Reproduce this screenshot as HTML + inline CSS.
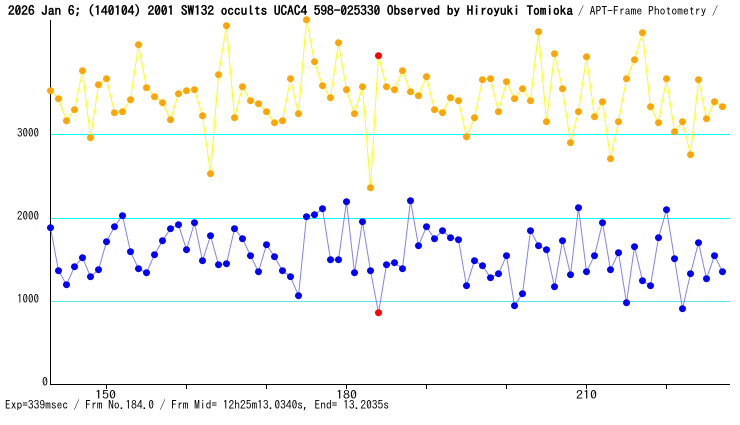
<!DOCTYPE html>
<html><head><meta charset="utf-8"><style>
html,body{margin:0;padding:0;background:#fff;}
svg{display:block;}
text{font-family:"IPAGothic","Liberation Sans",sans-serif;}
</style></head><body>
<svg width="740" height="425" viewBox="0 0 740 425" xmlns="http://www.w3.org/2000/svg">
<rect width="740" height="425" fill="#fff"/>
<text x="8" y="15" font-size="13" font-weight="bold" textLength="565" lengthAdjust="spacingAndGlyphs" fill="#000">2026 Jan 6; (140104) 2001 SW132 occults UCAC4 598-025330 Observed by Hiroyuki Tomioka</text>
<text x="578" y="15" font-size="12" textLength="140" lengthAdjust="spacingAndGlyphs" fill="#000">/ APT-Frame Photometry /</text>
<g shape-rendering="crispEdges">
<line x1="51" y1="134.5" x2="730" y2="134.5" stroke="#00ffff" stroke-width="1"/>
<line x1="51" y1="218.5" x2="730" y2="218.5" stroke="#00ffff" stroke-width="1"/>
<line x1="51" y1="301.5" x2="730" y2="301.5" stroke="#5ce4f0" stroke-width="1"/>
<line x1="50.5" y1="20" x2="50.5" y2="385" stroke="#000" stroke-width="1"/>
<line x1="50" y1="384.5" x2="730" y2="384.5" stroke="#000" stroke-width="1"/>
<path d="M106.5 385V389M186.5 385V389M266.5 385V389M346.5 385V389M426.5 385V389M506.5 385V389M586.5 385V389M666.5 385V389" stroke="#000" stroke-width="1"/>
</g>
<g font-size="12" fill="#000">
<text x="17" y="137" textLength="22" lengthAdjust="spacingAndGlyphs">3000</text>
<text x="17" y="220" textLength="22" lengthAdjust="spacingAndGlyphs">2000</text>
<text x="17" y="303" textLength="22" lengthAdjust="spacingAndGlyphs">1000</text>
<text x="42" y="386">0</text>
<text x="95" y="399" textLength="21" lengthAdjust="spacingAndGlyphs">150</text>
<text x="336" y="399" textLength="21" lengthAdjust="spacingAndGlyphs">180</text>
<text x="576" y="399" textLength="21" lengthAdjust="spacingAndGlyphs">210</text>
<text x="5" y="409" textLength="384" lengthAdjust="spacingAndGlyphs">Exp=339msec / Frm No.184.0 / Frm Mid= 12h25m13.0340s, End= 13.2035s</text>
</g>
<g transform="translate(0.5,0)">
<polyline fill="none" stroke="#ffff00" stroke-width="1" points="50,90.7 58,98.7 66,120.7 74,109.7 82,70.7 90,137.7 98,84.7 106,78.7 114,112.7 122,111.7 130,99.7 138,44.7 146,87.7 154,96.7 162,102.7 170,119.7 178,93.7 186,90.7 194,89.7 202,115.7 210,173.7 218,74.7 226,25.7 234,117.7 242,86.7 250,100.7 258,103.7 266,111.7 274,122.7 282,120.7 290,78.7 298,113.7 306,19.7 314,61.7 322,85.7 330,97.7 338,42.7 346,89.7 354,113.7 362,86.7 370,187.7 378,55.7 386,86.7 394,89.7 402,70.7 410,91.7 418,95.7 426,76.7 434,109.7 442,112.7 450,97.7 458,100.7 466,136.7 474,117.7 482,79.7 490,78.7 498,111.7 506,81.7 514,98.7 522,88.7 530,100.7 538,31.7 546,121.7 554,53.7 562,88.7 570,142.7 578,111.7 586,56.7 594,116.7 602,101.7 610,158.7 618,121.7 626,78.7 634,59.7 642,32.7 650,106.7 658,122.7 666,78.7 674,131.7 682,121.7 690,154.7 698,79.7 706,118.7 714,101.7 722,106.7"/>
<polyline fill="none" stroke="#8080ff" stroke-width="1" points="50,227.7 58,270.7 66,284.7 74,266.7 82,257.7 90,276.7 98,269.7 106,241.7 114,226.7 122,215.7 130,251.7 138,268.7 146,272.7 154,254.7 162,240.7 170,228.7 178,224.7 186,249.7 194,222.7 202,260.7 210,235.7 218,264.7 226,263.7 234,228.7 242,238.7 250,255.7 258,271.7 266,244.7 274,256.7 282,270.7 290,276.7 298,295.7 306,216.7 314,214.7 322,208.7 330,259.7 338,259.7 346,201.7 354,272.7 362,221.7 370,270.7 378,312.7 386,264.7 394,262.7 402,268.7 410,200.7 418,245.7 426,226.7 434,238.7 442,230.7 450,237.7 458,239.7 466,285.7 474,260.7 482,265.7 490,277.7 498,273.7 506,255.7 514,305.7 522,293.7 530,230.7 538,245.7 546,249.7 554,286.7 562,240.7 570,274.7 578,207.7 586,271.7 594,255.7 602,222.7 610,269.7 618,252.7 626,302.7 634,246.7 642,280.7 650,285.7 658,237.7 666,209.7 674,258.7 682,308.7 690,273.7 698,242.7 706,278.7 714,255.7 722,271.7"/>
<g fill="#ffa500">
<circle cx="50" cy="90.7" r="3.5"/><circle cx="58" cy="98.7" r="3.5"/><circle cx="66" cy="120.7" r="3.5"/><circle cx="74" cy="109.7" r="3.5"/><circle cx="82" cy="70.7" r="3.5"/><circle cx="90" cy="137.7" r="3.5"/><circle cx="98" cy="84.7" r="3.5"/><circle cx="106" cy="78.7" r="3.5"/><circle cx="114" cy="112.7" r="3.5"/><circle cx="122" cy="111.7" r="3.5"/><circle cx="130" cy="99.7" r="3.5"/><circle cx="138" cy="44.7" r="3.5"/><circle cx="146" cy="87.7" r="3.5"/><circle cx="154" cy="96.7" r="3.5"/><circle cx="162" cy="102.7" r="3.5"/><circle cx="170" cy="119.7" r="3.5"/><circle cx="178" cy="93.7" r="3.5"/><circle cx="186" cy="90.7" r="3.5"/><circle cx="194" cy="89.7" r="3.5"/><circle cx="202" cy="115.7" r="3.5"/><circle cx="210" cy="173.7" r="3.5"/><circle cx="218" cy="74.7" r="3.5"/><circle cx="226" cy="25.7" r="3.5"/><circle cx="234" cy="117.7" r="3.5"/><circle cx="242" cy="86.7" r="3.5"/><circle cx="250" cy="100.7" r="3.5"/><circle cx="258" cy="103.7" r="3.5"/><circle cx="266" cy="111.7" r="3.5"/><circle cx="274" cy="122.7" r="3.5"/><circle cx="282" cy="120.7" r="3.5"/><circle cx="290" cy="78.7" r="3.5"/><circle cx="298" cy="113.7" r="3.5"/><circle cx="306" cy="19.7" r="3.5"/><circle cx="314" cy="61.7" r="3.5"/><circle cx="322" cy="85.7" r="3.5"/><circle cx="330" cy="97.7" r="3.5"/><circle cx="338" cy="42.7" r="3.5"/><circle cx="346" cy="89.7" r="3.5"/><circle cx="354" cy="113.7" r="3.5"/><circle cx="362" cy="86.7" r="3.5"/><circle cx="370" cy="187.7" r="3.5"/><circle cx="386" cy="86.7" r="3.5"/><circle cx="394" cy="89.7" r="3.5"/><circle cx="402" cy="70.7" r="3.5"/><circle cx="410" cy="91.7" r="3.5"/><circle cx="418" cy="95.7" r="3.5"/><circle cx="426" cy="76.7" r="3.5"/><circle cx="434" cy="109.7" r="3.5"/><circle cx="442" cy="112.7" r="3.5"/><circle cx="450" cy="97.7" r="3.5"/><circle cx="458" cy="100.7" r="3.5"/><circle cx="466" cy="136.7" r="3.5"/><circle cx="474" cy="117.7" r="3.5"/><circle cx="482" cy="79.7" r="3.5"/><circle cx="490" cy="78.7" r="3.5"/><circle cx="498" cy="111.7" r="3.5"/><circle cx="506" cy="81.7" r="3.5"/><circle cx="514" cy="98.7" r="3.5"/><circle cx="522" cy="88.7" r="3.5"/><circle cx="530" cy="100.7" r="3.5"/><circle cx="538" cy="31.7" r="3.5"/><circle cx="546" cy="121.7" r="3.5"/><circle cx="554" cy="53.7" r="3.5"/><circle cx="562" cy="88.7" r="3.5"/><circle cx="570" cy="142.7" r="3.5"/><circle cx="578" cy="111.7" r="3.5"/><circle cx="586" cy="56.7" r="3.5"/><circle cx="594" cy="116.7" r="3.5"/><circle cx="602" cy="101.7" r="3.5"/><circle cx="610" cy="158.7" r="3.5"/><circle cx="618" cy="121.7" r="3.5"/><circle cx="626" cy="78.7" r="3.5"/><circle cx="634" cy="59.7" r="3.5"/><circle cx="642" cy="32.7" r="3.5"/><circle cx="650" cy="106.7" r="3.5"/><circle cx="658" cy="122.7" r="3.5"/><circle cx="666" cy="78.7" r="3.5"/><circle cx="674" cy="131.7" r="3.5"/><circle cx="682" cy="121.7" r="3.5"/><circle cx="690" cy="154.7" r="3.5"/><circle cx="698" cy="79.7" r="3.5"/><circle cx="706" cy="118.7" r="3.5"/><circle cx="714" cy="101.7" r="3.5"/><circle cx="722" cy="106.7" r="3.5"/>
</g>
<g fill="#0000ff">
<circle cx="50" cy="227.7" r="3.5"/><circle cx="58" cy="270.7" r="3.5"/><circle cx="66" cy="284.7" r="3.5"/><circle cx="74" cy="266.7" r="3.5"/><circle cx="82" cy="257.7" r="3.5"/><circle cx="90" cy="276.7" r="3.5"/><circle cx="98" cy="269.7" r="3.5"/><circle cx="106" cy="241.7" r="3.5"/><circle cx="114" cy="226.7" r="3.5"/><circle cx="122" cy="215.7" r="3.5"/><circle cx="130" cy="251.7" r="3.5"/><circle cx="138" cy="268.7" r="3.5"/><circle cx="146" cy="272.7" r="3.5"/><circle cx="154" cy="254.7" r="3.5"/><circle cx="162" cy="240.7" r="3.5"/><circle cx="170" cy="228.7" r="3.5"/><circle cx="178" cy="224.7" r="3.5"/><circle cx="186" cy="249.7" r="3.5"/><circle cx="194" cy="222.7" r="3.5"/><circle cx="202" cy="260.7" r="3.5"/><circle cx="210" cy="235.7" r="3.5"/><circle cx="218" cy="264.7" r="3.5"/><circle cx="226" cy="263.7" r="3.5"/><circle cx="234" cy="228.7" r="3.5"/><circle cx="242" cy="238.7" r="3.5"/><circle cx="250" cy="255.7" r="3.5"/><circle cx="258" cy="271.7" r="3.5"/><circle cx="266" cy="244.7" r="3.5"/><circle cx="274" cy="256.7" r="3.5"/><circle cx="282" cy="270.7" r="3.5"/><circle cx="290" cy="276.7" r="3.5"/><circle cx="298" cy="295.7" r="3.5"/><circle cx="306" cy="216.7" r="3.5"/><circle cx="314" cy="214.7" r="3.5"/><circle cx="322" cy="208.7" r="3.5"/><circle cx="330" cy="259.7" r="3.5"/><circle cx="338" cy="259.7" r="3.5"/><circle cx="346" cy="201.7" r="3.5"/><circle cx="354" cy="272.7" r="3.5"/><circle cx="362" cy="221.7" r="3.5"/><circle cx="370" cy="270.7" r="3.5"/><circle cx="386" cy="264.7" r="3.5"/><circle cx="394" cy="262.7" r="3.5"/><circle cx="402" cy="268.7" r="3.5"/><circle cx="410" cy="200.7" r="3.5"/><circle cx="418" cy="245.7" r="3.5"/><circle cx="426" cy="226.7" r="3.5"/><circle cx="434" cy="238.7" r="3.5"/><circle cx="442" cy="230.7" r="3.5"/><circle cx="450" cy="237.7" r="3.5"/><circle cx="458" cy="239.7" r="3.5"/><circle cx="466" cy="285.7" r="3.5"/><circle cx="474" cy="260.7" r="3.5"/><circle cx="482" cy="265.7" r="3.5"/><circle cx="490" cy="277.7" r="3.5"/><circle cx="498" cy="273.7" r="3.5"/><circle cx="506" cy="255.7" r="3.5"/><circle cx="514" cy="305.7" r="3.5"/><circle cx="522" cy="293.7" r="3.5"/><circle cx="530" cy="230.7" r="3.5"/><circle cx="538" cy="245.7" r="3.5"/><circle cx="546" cy="249.7" r="3.5"/><circle cx="554" cy="286.7" r="3.5"/><circle cx="562" cy="240.7" r="3.5"/><circle cx="570" cy="274.7" r="3.5"/><circle cx="578" cy="207.7" r="3.5"/><circle cx="586" cy="271.7" r="3.5"/><circle cx="594" cy="255.7" r="3.5"/><circle cx="602" cy="222.7" r="3.5"/><circle cx="610" cy="269.7" r="3.5"/><circle cx="618" cy="252.7" r="3.5"/><circle cx="626" cy="302.7" r="3.5"/><circle cx="634" cy="246.7" r="3.5"/><circle cx="642" cy="280.7" r="3.5"/><circle cx="650" cy="285.7" r="3.5"/><circle cx="658" cy="237.7" r="3.5"/><circle cx="666" cy="209.7" r="3.5"/><circle cx="674" cy="258.7" r="3.5"/><circle cx="682" cy="308.7" r="3.5"/><circle cx="690" cy="273.7" r="3.5"/><circle cx="698" cy="242.7" r="3.5"/><circle cx="706" cy="278.7" r="3.5"/><circle cx="714" cy="255.7" r="3.5"/><circle cx="722" cy="271.7" r="3.5"/>
</g>
<g fill="#ff0000">
<circle cx="378" cy="55.7" r="3.5"/><circle cx="378" cy="312.7" r="3.5"/>
</g>
</g>
</svg>
</body></html>
